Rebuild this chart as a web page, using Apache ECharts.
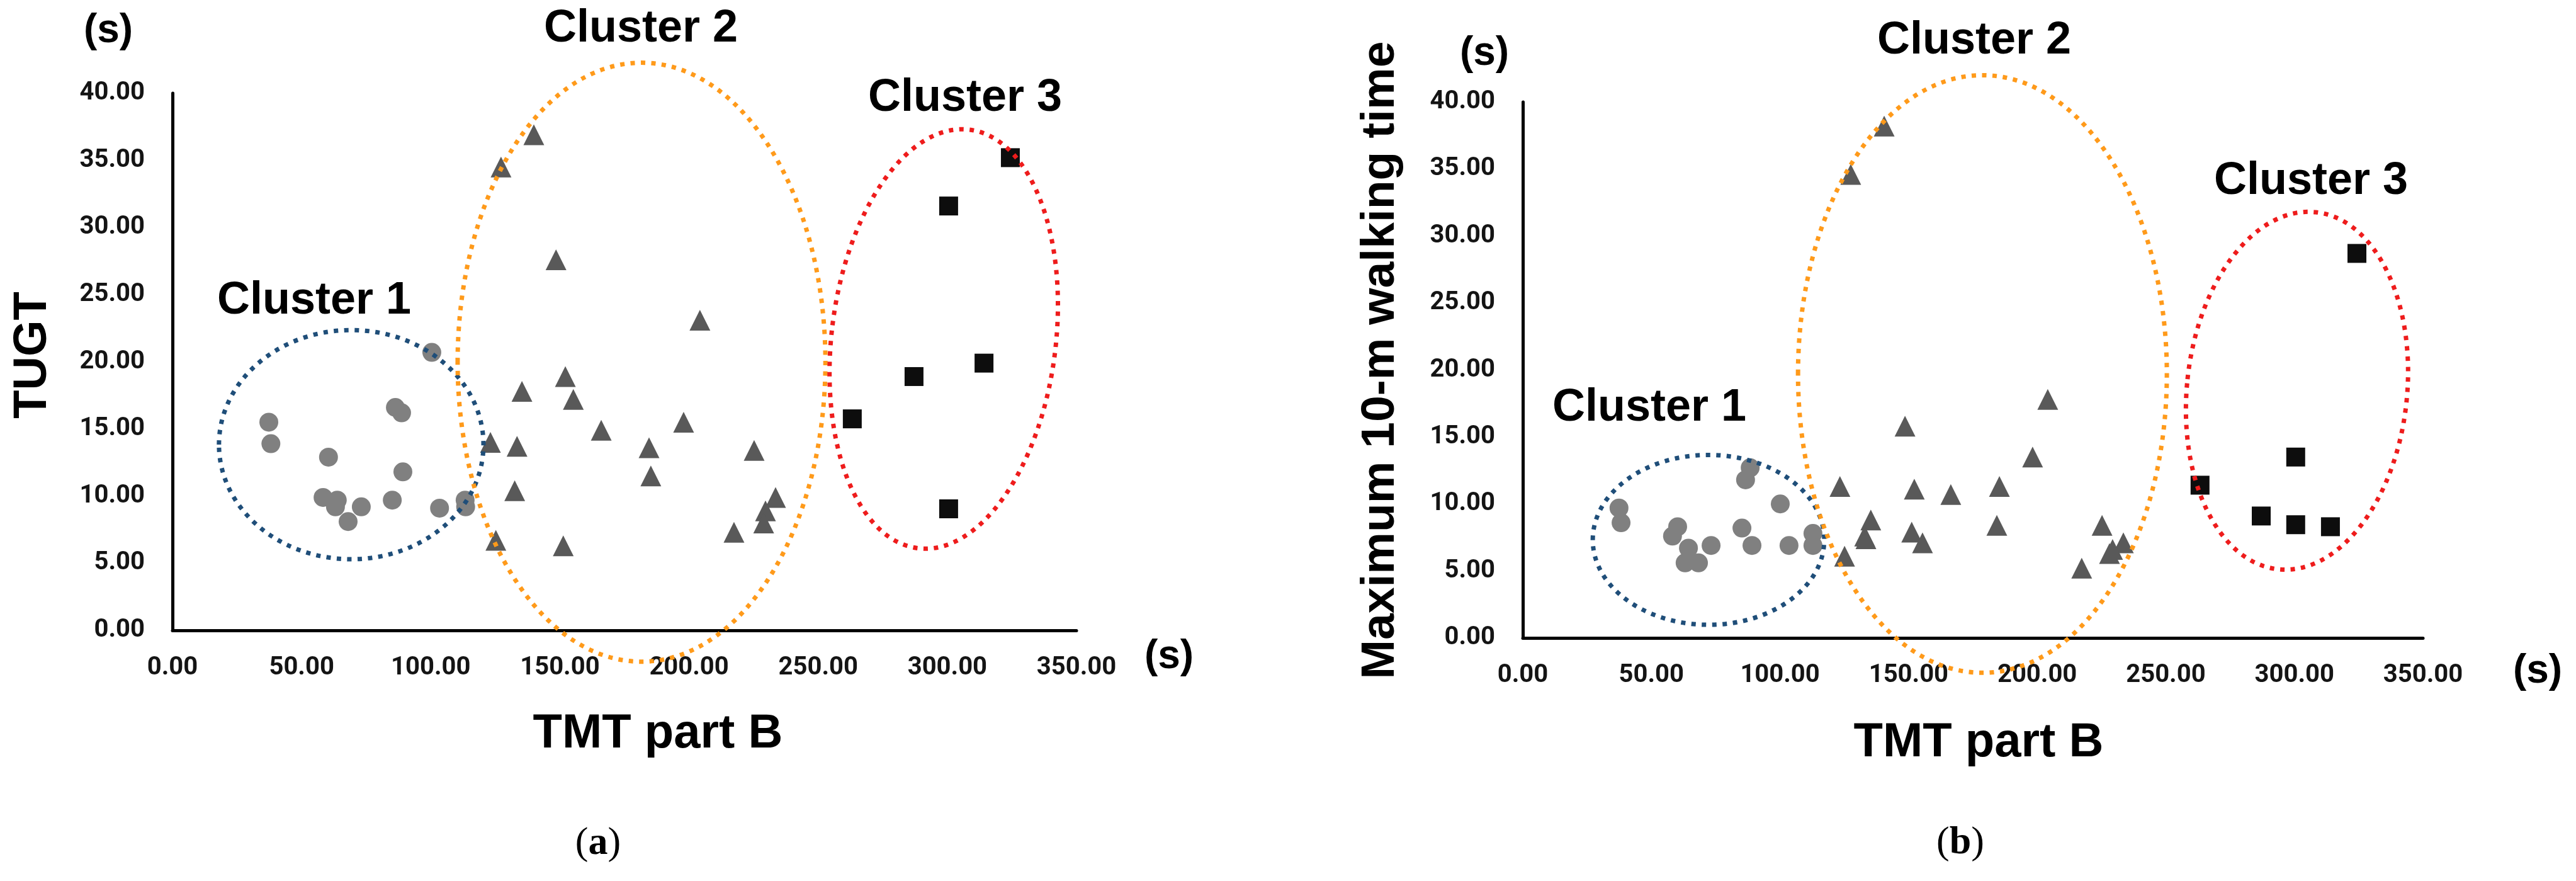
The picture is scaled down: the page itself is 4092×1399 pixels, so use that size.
<!DOCTYPE html>
<html>
<head>
<meta charset="utf-8">
<script src="https://cdn.jsdelivr.net/npm/echarts@6/dist/echarts.min.js"></script>
<style>
html,body{margin:0;padding:0;background:#fff;}
#chart{width:4092px;height:1399px;}
</style>
</head>
<body>
<div id="chart"></div>
<script>
// ---------- data ----------
const xTicks = [0, 50, 100, 150, 200, 250, 300, 350];
const yTicks = [0, 5, 10, 15, 20, 25, 30, 35, 40];

// Panel (a): TMT part B vs TUGT
const c1X_a = [37.3, 38.1, 60.4, 58.3, 63.8, 63.1, 68.0, 73.1, 85.1, 86.3, 88.7, 89.2, 100.4, 103.4, 113.3, 113.5];
const c1Y_a = [15.5, 13.9, 12.9, 9.9, 9.7, 9.2, 8.1, 9.2, 9.7, 16.6, 16.2, 11.8, 20.7, 9.1, 9.7, 9.2];
const c2X_a = [139.9, 127.2, 148.5, 135.3, 152.1, 155.2, 123.1, 133.4, 132.5, 125.2, 151.3, 166.0, 197.9, 204.2, 184.5, 185.2, 225.2, 233.5, 229.6, 228.9, 217.4];
const c2Y_a = [36.9, 34.5, 27.6, 17.8, 18.9, 17.2, 14.0, 13.7, 10.4, 6.7, 6.3, 14.9, 15.5, 23.1, 13.6, 11.5, 13.4, 9.9, 8.9, 8.0, 7.3];
const c3X_a = [263.2, 287.1, 300.5, 300.5, 314.2, 324.4];
const c3Y_a = [15.75, 18.9, 31.6, 9.05, 19.9, 35.2];

// Panel (b): TMT part B vs Maximum 10-m walking time
const c1X_b = [37.4, 38.2, 60.2, 58.2, 64.4, 63.1, 68.3, 73.2, 88.4, 86.6, 85.2, 89.1, 100.1, 103.5, 112.8, 112.8];
const c1Y_b = [9.7, 8.6, 8.3, 7.6, 6.7, 5.6, 5.6, 6.9, 12.7, 11.8, 8.2, 6.9, 10.0, 6.9, 7.8, 6.9];
const c2X_b = [140.5, 127.5, 148.6, 204.1, 198.2, 123.3, 152.2, 166.4, 185.3, 135.3, 132.9, 133.4, 151.2, 155.4, 184.3, 125.1, 225.2, 233.5, 229.3, 228.1, 217.3];
const c2Y_b = [38.2, 34.6, 15.8, 17.8, 13.5, 11.3, 11.1, 10.7, 11.3, 8.8, 7.6, 7.4, 7.9, 7.1, 8.4, 6.1, 8.4, 7.1, 6.6, 6.3, 5.2];
const c3X_b = [263.3, 287.1, 300.5, 300.5, 314.0, 324.3];
const c3Y_b = [11.4, 9.1, 13.5, 8.45, 8.3, 28.7];

// Cluster outlines in data units: [centerX, centerY, radiusX, radiusY, tiltDeg]
const ell1_a = [69.2, 13.83, 51.2, 8.53, 0];
const ell2_a = [181.6, 19.97, 71.2, 22.3, 0];
const ell3_a = [298.6, 21.7, 43.4, 15.7, 7];
const ell1_b = [72.2, 7.32, 45.0, 6.34, 0];
const ell2_b = [178.7, 19.7, 71.7, 22.3, 0];
const ell3_b = [301.0, 18.45, 42.8, 13.4, 6];

const clusterNames = ['Cluster 1', 'Cluster 2', 'Cluster 3'];
const xTitle = 'TMT part B';
const yTitleA = 'TUGT';
const yTitleB = 'Maximum 10-m walking time';
const unit = '(s)';

// ---------- helpers ----------
const zip = (xs, ys) => xs.map((x, i) => [x, ys[i]]);
const tickFont = {fontFamily: 'Roboto, "Liberation Sans", sans-serif', fontWeight: 'bold', fontSize: 40, color: '#141414'};

function xAxisDef(gi, margin) {
  return {
    type: 'value', gridIndex: gi, min: xTicks[0], max: xTicks[xTicks.length - 1], interval: 50,
    axisLine: {show: true, onZero: false, lineStyle: {color: '#000', width: 5}},
    axisTick: {show: false}, splitLine: {show: false},
    axisLabel: Object.assign({margin: margin, formatter: v => v.toFixed(2)}, tickFont)
  };
}
function yAxisDef(gi) {
  return {
    type: 'value', gridIndex: gi, min: yTicks[0], max: yTicks[yTicks.length - 1], interval: 5,
    axisLine: {show: true, onZero: false, lineStyle: {color: '#000', width: 5}},
    axisTick: {show: false}, splitLine: {show: false},
    axisLabel: Object.assign({margin: 44, formatter: v => v.toFixed(2)}, tickFont)
  };
}
function sc(name, gi, data, symbol, size, color) {
  return {
    name: name, type: 'scatter', xAxisIndex: gi, yAxisIndex: gi, data: data,
    symbol: symbol, symbolSize: size, itemStyle: {color: color, opacity: 1},
    emphasis: {disabled: true}, z: 3, animation: false
  };
}

const chart = echarts.init(document.getElementById('chart'), null, {renderer: 'canvas'});

const sansTitle = '"Liberation Sans", Arial, sans-serif';
function txt(text, x, y, size, opts) {
  opts = opts || {};
  return {
    type: 'text', x: x, y: y, rotation: opts.rotation || 0, z: 20,
    style: {
      text: text, fontSize: size, fontFamily: opts.family || sansTitle,
      fontWeight: opts.weight || 'bold', fill: '#000',
      align: 'center', verticalAlign: 'middle'
    }
  };
}
function panelLabel(letter, x, y) {
  return {
    type: 'text', x: x, y: y, z: 20,
    style: {
      text: '{p|(}{b|' + letter + '}{p|)}',
      align: 'center', verticalAlign: 'middle',
      rich: {
        p: {fontSize: 62, fontFamily: '"Liberation Serif", "DejaVu Serif", serif', fill: '#000'},
        b: {fontSize: 62, fontFamily: '"Liberation Serif", "DejaVu Serif", serif', fontWeight: 'bold', fill: '#000'}
      }
    }
  };
}

chart.setOption({
  backgroundColor: '#ffffff',
  animation: false,
  grid: [
    {left: 274, top: 148, width: 1436, height: 853, containLabel: false},
    {left: 2419, top: 162, width: 1430, height: 851, containLabel: false}
  ],
  xAxis: [xAxisDef(0, 40), xAxisDef(1, 40)],
  yAxis: [yAxisDef(0), yAxisDef(1)],
  series: [
    sc(clusterNames[0], 0, zip(c1X_a, c1Y_a), 'circle', 30, '#808080'),
    sc(clusterNames[1], 0, zip(c2X_a, c2Y_a), 'triangle', 33, '#595959'),
    sc(clusterNames[2], 0, zip(c3X_a, c3Y_a), 'rect', 30, '#0d0d0d'),
    sc(clusterNames[0], 1, zip(c1X_b, c1Y_b), 'circle', 30, '#808080'),
    sc(clusterNames[1], 1, zip(c2X_b, c2Y_b), 'triangle', 33, '#595959'),
    sc(clusterNames[2], 1, zip(c3X_b, c3Y_b), 'rect', 30, '#0d0d0d')
  ]
});

// Cluster outlines positioned through the grid's own coordinate system
function ellipseEl(gi, e, color) {
  const c = chart.convertToPixel({gridIndex: gi}, [e[0], e[1]]);
  const p = chart.convertToPixel({gridIndex: gi}, [e[0] + e[2], e[1] + e[3]]);
  return {
    type: 'ellipse', x: c[0], y: c[1], rotation: -e[4] * Math.PI / 180, z: 10, silent: true,
    shape: {cx: 0, cy: 0, rx: Math.abs(p[0] - c[0]), ry: Math.abs(c[1] - p[1])},
    style: {fill: 'none', stroke: color, lineWidth: 7, lineDash: [7, 9.5], lineCap: 'butt'}
  };
}

const blue = '#1f4e79', orange = '#ff9a1a', red = '#ee1c1c';
const graphics = [
  ellipseEl(0, ell1_a, blue), ellipseEl(0, ell2_a, orange), ellipseEl(0, ell3_a, red),
  ellipseEl(1, ell1_b, blue), ellipseEl(1, ell2_b, orange), ellipseEl(1, ell3_b, red),
  // panel (a) texts
  txt(clusterNames[0], 499, 478, 72),
  txt(clusterNames[1], 1018, 46, 72),
  txt(clusterNames[2], 1533, 156, 72),
  txt(xTitle, 1045, 1166, 76),
  txt(yTitleA, 53, 564, 74, {rotation: Math.PI / 2}),
  txt(unit, 172, 49, 64),
  txt(unit, 1857, 1043, 64),
  panelLabel('a', 950, 1340),
  // panel (b) texts
  txt(clusterNames[0], 2620, 648, 72),
  txt(clusterNames[1], 3136, 65, 72),
  txt(clusterNames[2], 3671, 288, 72),
  txt(xTitle, 3143, 1180, 76),
  txt(yTitleB, 2193, 572, 75, {rotation: Math.PI / 2}),
  txt(unit, 2358, 85, 64),
  txt(unit, 4031, 1066, 64),
  panelLabel('b', 3114, 1339)
];
chart.setOption({graphic: graphics});
</script>
</body>
</html>
